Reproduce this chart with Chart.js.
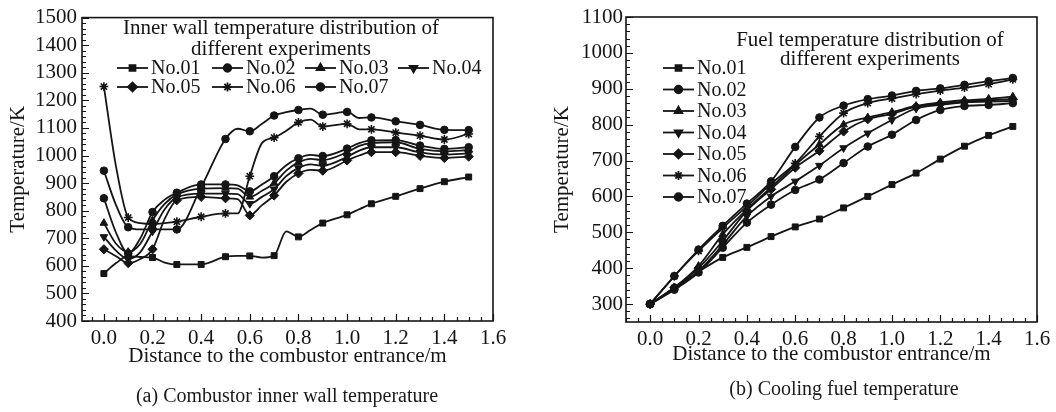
<!DOCTYPE html>
<html>
<head>
<meta charset="utf-8">
<script src="https://cdn.jsdelivr.net/npm/chart.js@4.4.1/dist/chart.umd.min.js"></script>
<style>
  body { margin: 0; background: #fff; width: 1056px; height: 412px; position: relative; overflow: hidden;
         font-family: "Liberation Serif", "Times New Roman", serif; color: #1a1a1a; }
  .panel { position: absolute; top: 0; height: 412px; }
  #panelA { left: 0; width: 530px; }
  #panelB { left: 530px; width: 526px; }
  .cap { position: absolute; font-size: 20px; white-space: nowrap; transform: translate(-50%, -50%); }
</style>
</head>
<body>
<div class="panel" id="panelA"><canvas id="wallChart" width="530" height="412"></canvas></div>
<div class="panel" id="panelB"><canvas id="fuelChart" width="526" height="412"></canvas></div>
<div class="cap" style="left:287px;top:395px">(a) Combustor inner wall temperature</div>
<div class="cap" style="left:844px;top:388px">(b) Cooling fuel temperature</div>
<script>
const seriesNames = ["No.01", "No.02", "No.03", "No.04", "No.05", "No.06", "No.07"];

// (a) inner wall temperature, K
const wallDistance = [0, 0.05, 0.1, 0.15, 0.2, 0.25, 0.3, 0.4, 0.5, 0.55, 0.6, 0.65, 0.7, 0.75, 0.8, 0.85, 0.9, 1.0, 1.05, 1.1, 1.2, 1.3, 1.4, 1.5];
const wallNo01 = [572, 610, 635, 632, 630, 612, 605, 605, 633, 636, 636, 630, 637, 725, 705, 730, 755, 785, 805, 825, 852, 880, 905, 922];
const wallNo02 = [845, 720, 645, 700, 795, 840, 865, 895, 895, 892, 870, 895, 925, 965, 990, 1002, 998, 1025, 1045, 1055, 1056, 1036, 1024, 1030];
const wallNo03 = [755, 680, 650, 680, 765, 825, 858, 880, 882, 880, 850, 872, 900, 945, 975, 988, 983, 1012, 1035, 1045, 1048, 1024, 1015, 1020];
const wallNo04 = [705, 655, 625, 650, 725, 805, 848, 862, 862, 860, 825, 850, 878, 925, 955, 968, 963, 995, 1018, 1030, 1030, 1011, 1003, 1008];
const wallNo05 = [660, 635, 610, 625, 660, 770, 838, 850, 845, 842, 783, 820, 855, 905, 935, 948, 945, 982, 1000, 1012, 1012, 999, 991, 996];
const wallNo06 = [1250, 960, 775, 755, 752, 755, 760, 778, 790, 790, 925, 1045, 1065, 1090, 1120, 1130, 1105, 1115, 1095, 1095, 1083, 1072, 1058, 1078];
const wallNo07 = [945, 820, 740, 732, 733, 732, 732, 885, 1060, 1097, 1088, 1115, 1145, 1157, 1165, 1170, 1148, 1158, 1136, 1138, 1124, 1111, 1093, 1092];

// (b) cooling fuel temperature, K
const fuelDistance = [0, 0.1, 0.2, 0.3, 0.4, 0.5, 0.6, 0.7, 0.8, 0.9, 1.0, 1.1, 1.2, 1.3, 1.4, 1.5];
const fuelNo01 = [300, 345, 390, 430, 458, 488, 515, 537, 568, 600, 633, 665, 704, 740, 770, 795];
const fuelNo02 = [300, 340, 388, 457, 527, 577, 618, 647, 693, 739, 772, 813, 841, 852, 855, 860];
const fuelNo03 = [300, 346, 406, 494, 564, 625, 688, 745, 800, 820, 835, 852, 862, 868, 872, 878];
const fuelNo04 = [300, 342, 392, 465, 545, 600, 642, 686, 735, 776, 813, 845, 855, 862, 864, 866];
const fuelNo05 = [300, 346, 400, 476, 560, 620, 680, 727, 781, 815, 830, 850, 858, 864, 868, 871];
const fuelNo06 = [300, 378, 448, 512, 572, 635, 692, 767, 832, 860, 873, 885, 895, 903, 913, 926];
const fuelNo07 = [300, 378, 452, 518, 580, 642, 738, 820, 853, 871, 881, 894, 901, 911, 921, 930];

const xTicks = [0, 0.2, 0.4, 0.6, 0.8, 1.0, 1.2, 1.4, 1.6];
const wallTicks = [400, 500, 600, 700, 800, 900, 1000, 1100, 1200, 1300, 1400, 1500];
const fuelTicks = [300, 400, 500, 600, 700, 800, 900, 1000, 1100];

const ink = "#151515";
const serif = '"Liberation Serif", "Times New Roman", serif';
const markers = [
  { style: "rect", rot: 0, r: 4.2 },
  { style: "circle", rot: 0, r: 3.8 },
  { style: "triangle", rot: 0, r: 4.4 },
  { style: "triangle", rot: 180, r: 4.4 },
  { style: "rectRot", rot: 0, r: 4.6 },
  { style: "star", rot: 0, r: 4.4 },
  { style: "circle", rot: 0, r: 3.8 },
];

const onTenth = (v) => Math.abs(v * 10 - Math.round(v * 10)) < 1e-6;

function makeSets(dist, lists) {
  return lists.map((vals, i) => ({
    label: seriesNames[i],
    data: vals.map((v, k) => ({ x: dist[k], y: v })),
    showLine: true,
    borderColor: ink,
    backgroundColor: ink,
    borderWidth: 1.8,
    cubicInterpolationMode: "monotone",
    pointStyle: markers[i].style,
    rotation: markers[i].rot,
    pointBorderWidth: markers[i].style === "star" ? 1.6 : 1,
    pointRadius: (c) => (c.raw && onTenth(c.raw.x) ? markers[i].r : 0),
    pointHoverRadius: 0,
  }));
}

// frame around plot area + inward ticks on left and bottom axes
const frameTicks = {
  id: "frameTicks",
  afterDraw(chart) {
    const { ctx, chartArea: a } = chart;
    const xs = chart.scales.x, ys = chart.scales.y;
    ctx.save();
    ctx.strokeStyle = ink;
    ctx.lineWidth = 1.6;
    ctx.strokeRect(a.left, a.top, a.right - a.left, a.bottom - a.top);
    ctx.lineWidth = 1.2;
    ctx.beginPath();
    for (let k = Math.ceil(xs.min / 0.05 - 1e-6); k * 0.05 <= xs.max + 1e-6; k++) {
      const px = Math.round(xs.getPixelForValue(k * 0.05)) + 0.5;
      const len = k % 4 === 0 ? 7 : 4;
      ctx.moveTo(px, a.bottom);
      ctx.lineTo(px, a.bottom - len);
    }
    for (let k = Math.ceil(ys.min / 20 - 1e-6); k * 20 <= ys.max + 1e-6; k++) {
      const py = Math.round(ys.getPixelForValue(k * 20)) + 0.5;
      const len = k % 5 === 0 ? 7 : 4;
      ctx.moveTo(a.left, py);
      ctx.lineTo(a.left + len, py);
    }
    ctx.stroke();
    ctx.restore();
  },
};

// in-plot legend with line + marker, and its heading
const sampleLegend = {
  id: "sampleLegend",
  afterDraw(chart, args, o) {
    const ctx = chart.ctx;
    ctx.save();
    ctx.fillStyle = ink;
    ctx.textBaseline = "middle";
    ctx.font = "21px " + serif;
    ctx.textAlign = "center";
    o.heading.forEach((t, i) => ctx.fillText(t, o.headX, o.headY[i]));
    ctx.font = "20px " + serif;
    ctx.textAlign = "left";
    chart.data.datasets.forEach((ds, i) => {
      const p = o.place(i);
      ctx.strokeStyle = ink;
      ctx.lineWidth = 1.8;
      ctx.beginPath();
      ctx.moveTo(p.x, p.y);
      ctx.lineTo(p.x + 31, p.y);
      ctx.stroke();
      Chart.helpers.drawPoint(ctx, {
        pointStyle: markers[i].style,
        rotation: markers[i].rot,
        radius: markers[i].r,
        borderWidth: markers[i].style === "star" ? 1.6 : 1,
      }, p.x + 15.5, p.y);
      ctx.fillStyle = ink;
      ctx.fillText(ds.label, p.x + 34, p.y + 1);
    });
    ctx.restore();
  },
};

function makeChart(id, dist, lists, yMin, yMax, yTicks, xMin, geo, legendOpts) {
  return new Chart(document.getElementById(id), {
    type: "scatter",
    data: { datasets: makeSets(dist, lists) },
    options: {
      responsive: false,
      animation: false,
      events: [],
      layout: { padding: { left: 0, top: geo.top, right: geo.right, bottom: 0 } },
      plugins: { legend: { display: false }, tooltip: { enabled: false }, sampleLegend: legendOpts },
      scales: {
        x: {
          type: "linear", min: xMin, max: 1.6,
          afterBuildTicks: (s) => { s.ticks = xTicks.map((v) => ({ value: v })); },
          afterFit: (s) => { s.height = geo.xh; },
          grid: { display: false, drawTicks: false }, border: { display: false },
          ticks: { color: ink, font: { family: serif, size: 21 }, padding: 5, maxRotation: 0,
                   autoSkip: false, callback: (v) => Number(v).toFixed(1) },
          title: { display: true, text: "Distance to the combustor entrance/m", color: ink,
                   font: { family: serif, size: 21 }, padding: { bottom: geo.xtPad, top: 0 } },
        },
        y: {
          type: "linear", min: yMin, max: yMax,
          afterBuildTicks: (s) => { s.ticks = yTicks.map((v) => ({ value: v })); },
          afterFit: (s) => { s.width = geo.yw; },
          grid: { display: false, drawTicks: false }, border: { display: false },
          ticks: { color: ink, font: { family: serif, size: 21 }, padding: geo.ytickPad,
                   autoSkip: false, callback: (v) => String(v) },
          title: { display: true, text: "Temperature/K", color: ink,
                   font: { family: serif, size: 21 }, padding: { top: geo.ytPad, bottom: 0 } },
        },
      },
    },
    plugins: [frameTicks, sampleLegend],
  });
}

makeChart("wallChart", wallDistance,
  [wallNo01, wallNo02, wallNo03, wallNo04, wallNo05, wallNo06, wallNo07],
  400, 1500, wallTicks, -0.09,
  { top: 16, right: 37, xh: 91, yw: 82, xtPad: 43, ytPad: 6, ytickPad: 5 },
  {
    heading: ["Inner wall temperature distribution of", "different experiments"],
    headX: 281, headY: [28, 49],
    place: (i) => ({ x: [117, 212, 305, 398][i % 4], y: i < 4 ? 68 : 87 }),
  });

makeChart("fuelChart", fuelDistance,
  [fuelNo01, fuelNo02, fuelNo03, fuelNo04, fuelNo05, fuelNo06, fuelNo07],
  250, 1100, fuelTicks, -0.1,
  { top: 17, right: 19, xh: 90, yw: 96, xtPad: 45, ytPad: 20, ytickPad: 3 },
  {
    heading: ["Fuel temperature distribution of", "different experiments"],
    headX: 340, headY: [40, 59],
    place: (i) => ({ x: 133, y: 68 + i * 21.5 }),
  });
</script>
</body>
</html>
